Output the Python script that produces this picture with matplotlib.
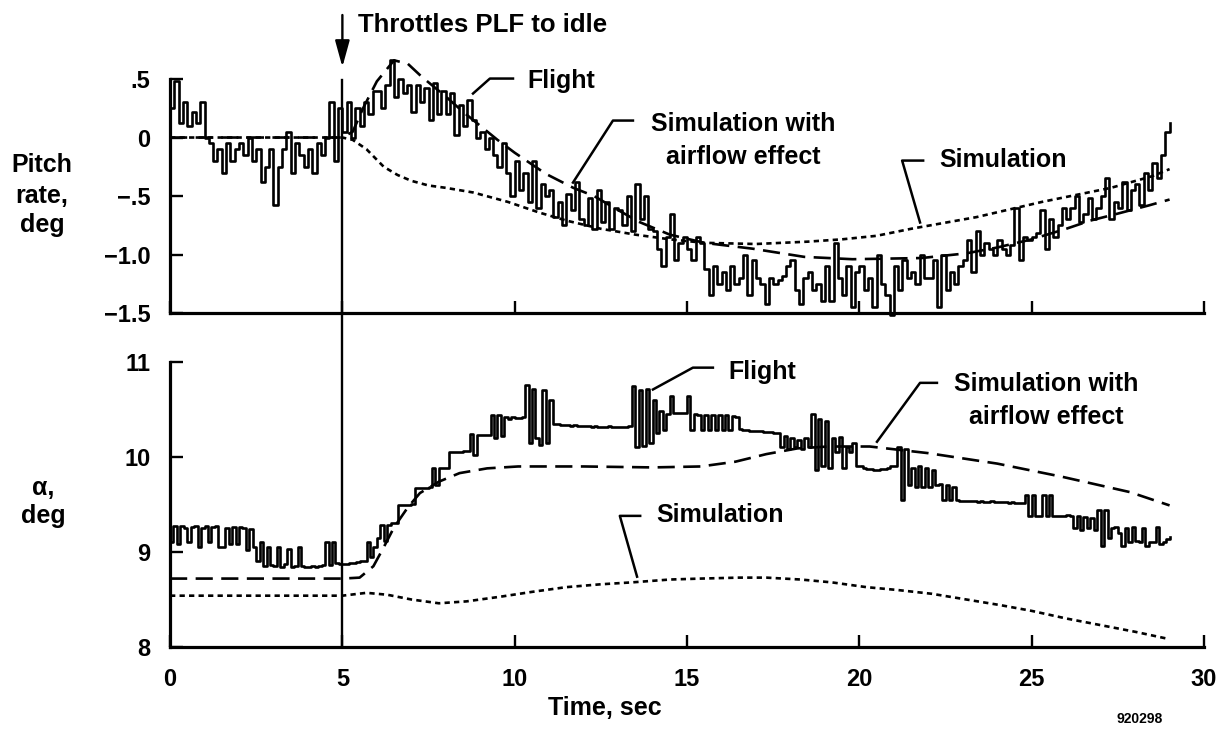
import numpy as np
import matplotlib
matplotlib.use("Agg")
import matplotlib.pyplot as plt
from matplotlib import transforms
from matplotlib.lines import Line2D

plt.rcParams['font.family'] = ['Liberation Sans', 'DejaVu Sans']
plt.rcParams['font.weight'] = 'bold'

# ---------------- data ----------------
event_time = 5.0

pitch_dt = 0.125
pitch_flight = [
    0.25, 0.48, 0.12, 0.3, 0.1, 0.22, 0.12, 0.3,
    0.0, -0.05, -0.2, -0.1, -0.3, -0.05, -0.2, -0.1,
    -0.05, -0.15, 0.0, -0.2, -0.1, -0.38, -0.25, -0.1,
    -0.58, -0.25, -0.1, 0.05, -0.3, -0.05, -0.15, -0.25,
    -0.1, -0.3, -0.05, -0.15, 0.0, 0.3, -0.2, 0.25,
    0.05, 0.3, 0.0, 0.25, 0.1, 0.3, 0.2, 0.4,
    0.4, 0.25, 0.45, 0.66, 0.35, 0.5, 0.38, 0.45,
    0.22, 0.45, 0.3, 0.42, 0.15, 0.47, 0.2, 0.4,
    0.2, 0.38, 0.02, 0.28, 0.1, 0.32, 0.15, 0.0,
    0.05, -0.1, 0.0, -0.15, -0.25, -0.05, -0.3, -0.5,
    -0.2, -0.45, -0.3, -0.55, -0.2, -0.6, -0.4, -0.5,
    -0.45, -0.68, -0.55, -0.75, -0.48, -0.62, -0.38, -0.7,
    -0.75, -0.52, -0.78, -0.45, -0.72, -0.55, -0.78, -0.6,
    -0.62, -0.75, -0.5, -0.8, -0.4, -0.7, -0.5, -0.78,
    -0.8, -0.95, -1.1, -0.85, -0.65, -1.05, -0.9, -0.85,
    -0.95, -1.05, -0.85, -0.9, -1.12, -1.35, -1.1, -1.25,
    -1.15, -1.3, -1.1, -1.25, -1.2, -1.0, -1.35, -1.05,
    -1.2, -1.25, -1.42, -1.2, -1.25, -1.22, -1.18, -1.1,
    -1.05, -1.3, -1.42, -1.2, -1.15, -1.3, -1.25, -1.4,
    -1.1, -1.4, -0.9, -1.2, -1.35, -1.1, -1.45, -1.15,
    -1.1, -1.3, -1.2, -1.45, -1.0, -1.25, -1.35, -1.52,
    -1.1, -1.3, -1.05, -1.2, -1.15, -1.25, -1.0, -1.2,
    -1.2, -1.05, -1.45, -1.0, -1.3, -1.15, -1.25, -1.1,
    -1.05, -0.88, -1.15, -0.8, -1.0, -0.9, -0.95, -1.0,
    -0.88, -0.95, -1.0, -0.92, -0.6, -1.05, -0.85, -0.88,
    -0.85, -0.82, -0.62, -0.95, -0.7, -0.85, -0.75, -0.6,
    -0.7, -0.6, -0.5, -0.72, -0.65, -0.52, -0.7, -0.6,
    -0.5, -0.35, -0.7, -0.55, -0.6, -0.38, -0.62, -0.45,
    -0.4, -0.58, -0.3, -0.45, -0.22, -0.35, -0.15, 0.05,
    0.12,
]

pitch_sim_t = [0, 5, 5.3, 5.7, 6.2, 6.6, 7.0, 7.5, 8.0, 8.8, 9.8, 10.7, 11.5,
               12.5, 13.5, 14.5, 15.5, 17.0, 18.5, 19.5, 20.5, 21.5, 23.4,
               25.3, 27.3, 28.5, 29.0]
pitch_sim_v = [0, 0, -0.02, -0.1, -0.25, -0.32, -0.37, -0.41, -0.43, -0.47,
               -0.55, -0.64, -0.71, -0.78, -0.83, -0.87, -0.9, -0.91, -0.89,
               -0.87, -0.84, -0.78, -0.68, -0.55, -0.43, -0.33, -0.27]

pitch_air_t = [0, 5, 5.3, 5.6, 6.0, 6.5, 6.9, 7.3, 8.0, 8.5, 9.0, 9.5, 10.0,
               10.9, 11.7, 12.3, 13.0, 13.6, 14.5, 15.5, 16.9, 18.4, 19.8,
               21.8, 23.1, 24.0, 25.0, 26.0, 26.7, 27.5, 28.4, 29.0]
pitch_air_v = [0, 0, 0.05, 0.25, 0.48, 0.66, 0.63, 0.52, 0.35, 0.22, 0.1,
               -0.02, -0.13, -0.31, -0.43, -0.5, -0.62, -0.72, -0.83, -0.9,
               -0.95, -1.02, -1.04, -1.03, -0.99, -0.94, -0.87, -0.78, -0.71,
               -0.65, -0.58, -0.53]

alpha_dt = 0.1
alpha_flight = [
    9.1, 9.27, 9.08, 9.27, 9.25, 9.1, 9.26, 9.27, 9.05, 9.25,
    9.27, 9.1, 9.26, 9.27, 9.05, 9.05, 9.25, 9.08, 9.26, 9.08,
    9.26, 9.25, 9.02, 9.24, 9.05, 8.9, 9.1, 8.85, 9.05, 8.86,
    8.85, 9.05, 8.84, 8.87, 9.03, 8.84, 8.85, 9.05, 8.85, 8.84,
    8.84, 8.85, 8.84, 8.85, 8.86, 9.1, 8.86, 9.1, 8.88, 8.87,
    8.87, 8.87, 8.88, 8.88, 8.89, 8.9, 8.9, 9.1, 8.95, 9.05,
    9.15, 9.28, 9.12, 9.28, 9.3, 9.3, 9.49, 9.49, 9.49, 9.49,
    9.5, 9.67, 9.67, 9.67, 9.67, 9.68, 9.88, 9.7, 9.88, 9.88,
    9.88, 10.05, 10.05, 10.05, 10.05, 10.06, 10.06, 10.24, 10.02, 10.23,
    10.23, 10.23, 10.23, 10.44, 10.2, 10.44, 10.22, 10.42, 10.4, 10.42,
    10.41, 10.41, 10.42, 10.76, 10.15, 10.72, 10.2, 10.13, 10.7, 10.15,
    10.6, 10.35, 10.35, 10.34, 10.34, 10.34, 10.33, 10.34, 10.33, 10.33,
    10.33, 10.33, 10.32, 10.33, 10.32, 10.32, 10.32, 10.33, 10.32, 10.32,
    10.32, 10.32, 10.32, 10.33, 10.75, 10.1, 10.7, 10.12, 10.72, 10.15,
    10.6, 10.25, 10.48, 10.28, 10.45, 10.64, 10.46, 10.46, 10.46, 10.46,
    10.64, 10.28, 10.45, 10.44, 10.28, 10.44, 10.28, 10.44, 10.28, 10.44,
    10.28, 10.44, 10.28, 10.43, 10.42, 10.29, 10.28, 10.28, 10.27, 10.27,
    10.27, 10.27, 10.26, 10.26, 10.26, 10.25, 10.25, 10.1, 10.22, 10.08,
    10.2, 10.1, 10.18, 10.08, 10.2, 10.1, 10.45, 9.86, 10.4, 9.9,
    10.38, 9.88, 10.2, 10.05, 10.21, 9.88, 10.1, 10.05, 10.15, 9.9,
    9.9, 9.88, 9.87, 9.87, 9.86, 9.86, 9.87, 9.87, 9.88, 9.9,
    9.9, 10.1, 9.55, 10.08, 9.7, 9.88, 9.68, 9.9, 9.68, 9.88,
    9.68, 9.86, 9.7, 9.72, 9.55, 9.7, 9.55, 9.68, 9.55, 9.54,
    9.54, 9.54, 9.54, 9.54, 9.53, 9.54, 9.53, 9.53, 9.54, 9.53,
    9.53, 9.53, 9.53, 9.52, 9.53, 9.52, 9.52, 9.52, 9.6, 9.38,
    9.6, 9.38, 9.38, 9.6, 9.38, 9.6, 9.38, 9.38, 9.38, 9.38,
    9.39, 9.38, 9.25, 9.38, 9.23, 9.37, 9.25, 9.36, 9.23, 9.44,
    9.06, 9.44, 9.15, 9.25, 9.26, 9.2, 9.06, 9.25, 9.1, 9.26,
    9.12, 9.1, 9.25, 9.06, 9.1, 9.1, 9.26, 9.08, 9.1, 9.14,
    9.16,
]

alpha_sim_t = [0, 5, 5.7, 6.3, 7.0, 7.8, 8.6, 9.6, 10.5, 11.5, 12.5, 13.4,
               14.5, 15.4, 16.5, 17.3, 18.3, 19.2, 20.2, 21.1, 22.1, 23.1,
               24.1, 25.0, 26.0, 27.0, 28.0, 28.9]
alpha_sim_v = [8.54, 8.54, 8.57, 8.55, 8.5, 8.46, 8.48, 8.53, 8.58, 8.63,
               8.66, 8.68, 8.71, 8.72, 8.73, 8.73, 8.71, 8.68, 8.63, 8.6,
               8.56, 8.5, 8.44, 8.38, 8.3, 8.23, 8.16, 8.09]

alpha_air_t = [0, 5, 5.5, 5.9, 6.2, 6.5, 6.9, 7.25, 7.8, 8.4, 9.2, 10.1, 12.0,
               14.0, 15.4, 16.4, 17.3, 18.2, 19.1, 20.3, 22.0, 24.0, 25.9,
               27.85, 29.0]
alpha_air_v = [8.72, 8.72, 8.73, 8.85, 9.05, 9.26, 9.47, 9.62, 9.74, 9.83,
               9.88, 9.9, 9.9, 9.89, 9.9, 9.95, 10.03, 10.09, 10.11, 10.11,
               10.04, 9.93, 9.79, 9.63, 9.49]

pitch_ticks = [0.5, 0, -0.5, -1.0, -1.5]
pitch_ticklabels = ['.5', '0', '\u2212.5', '\u22121.0', '\u22121.5']
alpha_ticks = [8, 9, 10, 11]
alpha_ticklabels = ['8', '9', '10', '11']
time_ticks = [0, 5, 10, 15, 20, 25, 30]
time_ticklabels = ['0', '5', '10', '15', '20', '25', '30']

# annotations: (text lines, center t, baselines, leader t, leader v)
top_notes = [
    (['Flight'], 11.34, [0.427], [9.95, 9.28, 8.79], [0.504, 0.504, 0.376]),
    (['Simulation with', 'airflow effect'], 16.62, [0.06, -0.222],
     [13.43, 12.85, 11.69], [0.145, 0.145, -0.385]),
    (['Simulation'], 24.18, [-0.254], [21.85, 21.24, 21.76], [-0.197, -0.197, -0.726]),
]
bottom_notes = [
    (['Flight'], 17.19, [10.82], [15.75, 15.17, 14.01], [10.94, 10.94, 10.71]),
    (['Simulation'], 15.96, [9.32], [13.64, 13.05, 13.55], [9.38, 9.38, 8.74]),
    (['Simulation with', 'airflow effect'], 25.43, [10.69, 10.35],
     [22.25, 21.76, 20.51], [10.78, 10.78, 10.16]),
]

# ---------------- figure ----------------
fig = plt.figure(figsize=(12.26, 7.29), dpi=100)
ax1 = fig.add_axes([0.1387, 0.5706, 0.8434, 0.3210])
ax2 = fig.add_axes([0.1387, 0.1125, 0.8434, 0.3910])

LW = 1.9
SLW = 1.9
dash_style = (6.5, 3.2)
dot_style = (2.0, 1.6)

t_pitch = np.arange(len(pitch_flight)) * pitch_dt
ax1.plot(t_pitch, pitch_flight, drawstyle='steps-post', color='black', lw=LW, clip_on=False)
ax1.plot(pitch_sim_t, pitch_sim_v, color='black', lw=SLW, dashes=dot_style, clip_on=False)
ax1.plot(pitch_air_t, pitch_air_v, color='black', lw=SLW, dashes=dash_style, clip_on=False)

t_alpha = np.arange(len(alpha_flight)) * alpha_dt
ax2.plot(t_alpha, alpha_flight, drawstyle='steps-post', color='black', lw=LW, clip_on=False)
ax2.plot(alpha_sim_t, alpha_sim_v, color='black', lw=SLW, dashes=dot_style, clip_on=False)
ax2.plot(alpha_air_t, alpha_air_v, color='black', lw=SLW, dashes=dash_style, clip_on=False)

for ax in (ax1, ax2):
    ax.set_xlim(0, 30)
    ax.spines['top'].set_visible(False)
    ax.spines['right'].set_visible(False)
    ax.spines['left'].set_linewidth(2.3)
    ax.spines['bottom'].set_linewidth(2.3)
    ax.set_xticks(time_ticks)
    ax.tick_params(direction='in', length=9, width=1.7, labelsize=17,
                   color='black')
    ax.tick_params(axis='y', pad=14)
    ax.tick_params(axis='x', pad=15)
    ax.patch.set_visible(False)

ax1.set_ylim(-1.5, 0.5)
ax1.set_yticks(pitch_ticks)
ax1.set_yticklabels(pitch_ticklabels)
ax1.tick_params(axis='x', labelbottom=False)

ax2.set_ylim(8, 11)
ax2.set_yticks(alpha_ticks)
ax2.set_yticklabels(alpha_ticklabels)
ax2.set_xticklabels(time_ticklabels)

for lab in ax1.get_yticklabels() + ax2.get_yticklabels() + ax2.get_xticklabels():
    lab.set_fontweight('bold')

# annotations
for ax, notes in ((ax1, top_notes), (ax2, bottom_notes)):
    for lines, tc, bases, lt, lv in notes:
        for line, b in zip(lines, bases):
            ax.text(tc, b, line, ha='center', va='baseline', fontsize=18,
                    fontweight='bold', clip_on=False)
        ax.plot(lt, lv, color='black', lw=1.8, clip_on=False)

# event line through both panels
vtrans = transforms.blended_transform_factory(ax2.transData, fig.transFigure)
fig.add_artist(Line2D([event_time, event_time], [1 - 647 / 729, 1 - 80 / 729],
                      transform=vtrans, color='black', lw=1.7))
atrans = transforms.blended_transform_factory(ax1.transData, fig.transFigure)
ax1.annotate('', xy=(event_time, 1 - 67 / 729), xytext=(event_time, 1 - 15 / 729),
             xycoords=atrans, textcoords=atrans,
             arrowprops=dict(arrowstyle='-|>,head_length=0.8,head_width=0.22',
                             color='black', lw=1.7, shrinkA=0, shrinkB=0,
                             mutation_scale=20))
ax1.text(5.45, 1 - 25 / 729, 'Throttles PLF to idle', transform=atrans,
         ha='left', va='center', fontsize=18.5, fontweight='bold')

# axis titles
for txt, y in (('Pitch', 172), ('rate,', 203), ('deg', 232)):
    fig.text(42 / 1226, 1 - y / 729, txt, ha='center', va='baseline',
             fontsize=18, fontweight='bold')
for txt, y in (('\u03b1,', 495), ('deg', 523)):
    fig.text(43 / 1226, 1 - y / 729, txt, ha='center', va='baseline',
             fontsize=18, fontweight='bold')
fig.text(605 / 1226, 1 - 715 / 729, 'Time, sec', ha='center', va='baseline',
         fontsize=18, fontweight='bold')
fig.text(1140 / 1226, 0.004, '920298', ha='center', va='bottom',
         fontsize=10, fontweight='bold')

fig.savefig('out.png', dpi=100)
